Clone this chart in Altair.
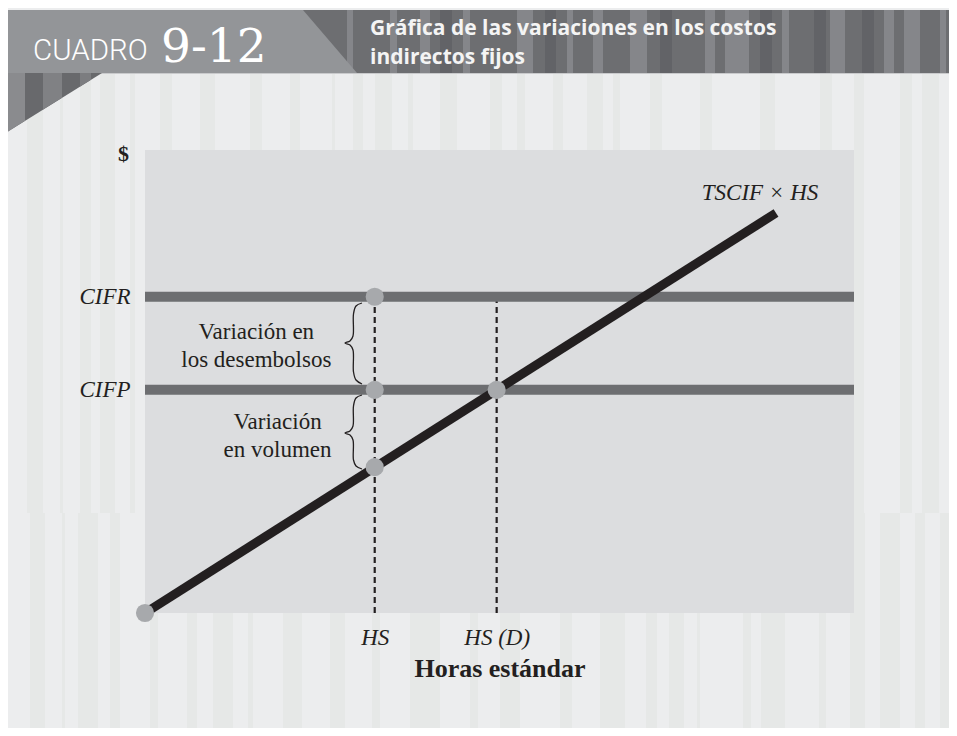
import altair as alt
import pandas as pd

# ---------------- chart values (data units, 0-100 on both axes) ----------------
x_label_names = ["HS", "HS (D)"]
x_label_values = [32.4, 49.6]
y_label_names = ["CIFR", "CIFP"]
y_label_values = [68.3, 48.2]

line_x = [0.0, 89.0]            # TSCIF x HS
line_y = [0.0, 86.4]

point_x = [0.0, 32.4, 32.4, 32.4, 49.6]
point_y = [0.0, 68.3, 48.2, 31.5, 48.2]

dash_x = [32.4, 49.6]
dash_top = [68.3, 68.3]

note_text = ["Variación en\nlos desembolsos", "Variación\nen volumen"]
note_x = [15.7, 18.7]
note_y = [57.7, 38.2]

line_label = "TSCIF ×  HS"
x_title = "Horas estándar"
y_title = "$"

title_lines = ["Gráfica de las variaciones en los costos", "indirectos fijos"]
title_baselines = [35, 64]

# ---------------- decorative page elements (page pixels) ----------------
upper_x0 = [27, 60, 80, 100, 130, 160, 200, 250, 290, 332, 353, 375, 408, 440, 490, 517, 553, 587, 613, 650, 700, 760, 820, 854, 900, 922]
upper_x1 = [43, 63, 91, 115, 135, 172, 215, 262, 300, 335, 363, 392, 413, 457, 502, 525, 563, 603, 620, 662, 712, 775, 832, 864, 912, 939]
lower_x0 = [30, 62, 78, 110, 150, 187, 213, 248, 283, 330, 372, 410, 470, 500, 560, 600, 646, 669, 697, 743, 761, 819, 850, 880, 915, 940]
lower_x1 = [45, 65, 98, 120, 158, 197, 233, 253, 302, 345, 380, 440, 478, 520, 572, 625, 657, 684, 700, 751, 785, 826, 865, 900, 925, 957]
banner_light_x0 = [347, 390, 420, 463, 517, 567, 593, 630, 705, 725, 782, 830, 884, 904, 940]
banner_light_x1 = [353, 397, 430, 470, 533, 573, 603, 647, 715, 749, 789, 845, 894, 920, 946]
banner_dark_x0 = [440, 545, 660, 760, 814, 862]
banner_dark_x1 = [452, 556, 672, 772, 826, 874]

box_x = [7, 303, 357]
box_top = [10, 10, 73]
box_bottom = [73, 73, 73]

fold_group = ["base", "base", "a", "a", "b", "b", "c", "c"]
fold_x = [7, 102, 7, 25, 43, 62, 80, 91]
fold_top = [73, 73, 73, 73, 73, 73, 73, 73]
fold_bottom = [132, 73, 132, 120.8, 109.6, 97.8, 86.5, 79.7]
fold_color = ["#68696c", "#68696c", "#8a8b8e", "#8a8b8e", "#808184", "#808184", "#7c7d80", "#7c7d80"]

brace_x = [362, 356, 353.5, 353, 350, 345, 350, 353, 353.5, 356, 362]
brace1_y = [303, 306, 314, 336, 341, 343, 345, 350, 372, 380, 384]
brace2_y = [395, 398, 406, 426, 431, 433, 435, 440, 460, 466, 469]

# ---------------- scales ----------------
DATA_X = alt.Scale(domain=[0, 100], nice=False, zero=False)
DATA_Y = alt.Scale(domain=[0, 100], nice=False, zero=False)
DECO_X = alt.Scale(domain=[8, 949], range=[-137, 804], nice=False, zero=False)
DECO_Y = alt.Scale(domain=[8, 728], range=[-142, 578], nice=False, zero=False)

SERIF = "Liberation Serif"
INK = "#231f20"
STRIPE = "#e6e8e7"


def dX(f):
    return alt.X(f, type="quantitative", scale=DECO_X, axis=None)


def dY(f):
    return alt.Y(f, type="quantitative", scale=DECO_Y, axis=None)


def pX(f):
    return alt.X(f, type="quantitative", scale=DATA_X, axis=None)


def pY(f):
    return alt.Y(f, type="quantitative", scale=DATA_Y, axis=None)


# background stripes
up_df = pd.DataFrame({"x0": upper_x0, "x1": upper_x1, "y0": 73, "y1": 513})
lo_df = pd.DataFrame({"x0": lower_x0, "x1": lower_x1, "y0": 513, "y1": 736})
bg_up = alt.Chart(up_df).mark_rect(color=STRIPE).encode(x=dX("x0"), x2="x1", y=dY("y0"), y2="y1")
bg_lo = alt.Chart(lo_df).mark_rect(color=STRIPE).encode(x=dX("x0"), x2="x1", y=dY("y0"), y2="y1")

# banner
banner = alt.Chart(pd.DataFrame({"x0": [7], "x1": [957], "y0": [10], "y1": [73]})).mark_rect(
    color="#6d6e71").encode(x=dX("x0"), x2="x1", y=dY("y0"), y2="y1")
bl_df = pd.DataFrame({"x0": banner_light_x0, "x1": banner_light_x1, "y0": 10, "y1": 73})
banner_light = alt.Chart(bl_df).mark_rect(color="#85868a").encode(x=dX("x0"), x2="x1", y=dY("y0"), y2="y1")
bd_df = pd.DataFrame({"x0": banner_dark_x0, "x1": banner_dark_x1, "y0": 10, "y1": 73})
banner_dark = alt.Chart(bd_df).mark_rect(color="#626367").encode(x=dX("x0"), x2="x1", y=dY("y0"), y2="y1")
banner_line = alt.Chart(pd.DataFrame({"x0": [7], "x1": [957], "y0": [73], "y1": [74]})).mark_rect(
    color="#c9cacc").encode(x=dX("x0"), x2="x1", y=dY("y0"), y2="y1")

box = alt.Chart(pd.DataFrame({"x": box_x, "y": box_top, "y2": box_bottom})).mark_area(
    color="#939598", opacity=1).encode(x=dX("x"), y=dY("y"), y2="y2")

fold = alt.Chart(pd.DataFrame({"g": fold_group, "x": fold_x, "y": fold_top, "y2": fold_bottom,
                               "c": fold_color})).mark_area(opacity=1).encode(
    x=dX("x"), y=dY("y"), y2="y2", detail="g:N",
    color=alt.Color("c:N", scale=None))

cuadro = alt.Chart(pd.DataFrame({"x": [33], "y": [60], "t": ["CUADRO"]})).mark_text(
    align="left", baseline="alphabetic", font="Roboto", fontWeight=300, fontSize=29.5, color="#ffffff"
).encode(x=dX("x"), y=dY("y"), text="t:N")
number = alt.Chart(pd.DataFrame({"x": [161], "y": [62], "t": ["9-12"]})).mark_text(
    align="left", baseline="alphabetic", font="DejaVu Serif", fontSize=47, color="#ffffff"
).encode(x=dX("x"), y=dY("y"), text="t:N")
title = alt.Chart(pd.DataFrame({"x": [370, 370], "y": title_baselines, "t": title_lines})).mark_text(
    align="left", baseline="alphabetic", font="Open Sans", fontWeight="bold", fontSize=21,
    color="#f4f4f4"
).encode(x=dX("x"), y=dY("y"), text="t:N")

# plot area
plot_bg = alt.Chart(pd.DataFrame({"x0": [0], "x1": [100], "y0": [0], "y1": [100]})).mark_rect(
    color="#dcdddf").encode(x=pX("x0"), x2="x1", y=pY("y0"), y2="y1")

dashes = alt.Chart(pd.DataFrame({"x": dash_x, "y0": [0, 0], "y1": dash_top})).mark_rule(
    color=INK, strokeWidth=2.2, strokeDash=[6, 4]).encode(x=pX("x"), y=pY("y0"), y2="y1")

hlines = alt.Chart(pd.DataFrame({"y": y_label_values, "x0": 0, "x1": 100})).mark_rule(
    color="#6d6e71", strokeWidth=10).encode(y=pY("y"), x=pX("x0"), x2="x1")

x_expr = " : ".join(f"datum.value == {v} ? '{n}'" for v, n in zip(x_label_values, x_label_names)) + " : ''"
y_expr = " : ".join(f"datum.value == {v} ? '{n}'" for v, n in zip(y_label_values, y_label_names)) + " : ''"

main_line = alt.Chart(pd.DataFrame({"x": line_x, "y": line_y})).mark_line(
    color=INK, strokeWidth=9, strokeCap="butt").encode(
    x=alt.X("x:Q", scale=DATA_X, axis=alt.Axis(
        values=x_label_values, labelExpr=x_expr, title=x_title, domain=False, ticks=False, grid=False,
        labelFont=SERIF, labelFontStyle="italic", labelFontSize=23, labelColor=INK, labelPadding=13,
        titleFont=SERIF, titleFontWeight="bold", titleFontSize=26, titleColor=INK, titlePadding=6,
        zindex=1)),
    y=alt.Y("y:Q", scale=DATA_Y, axis=alt.Axis(
        values=y_label_values, labelExpr=y_expr, title=y_title, domain=False, ticks=False, grid=False,
        labelFont=SERIF, labelFontStyle="italic", labelFontSize=23, labelColor=INK, labelPadding=15,
        titleFont=SERIF, titleFontWeight="bold", titleFontSize=22, titleColor=INK, titleAngle=0,
        titleAlign="center", titleBaseline="middle", titleX=-22, titleY=3, zindex=1)),
)

points = alt.Chart(pd.DataFrame({"x": point_x, "y": point_y})).mark_circle(
    color="#a7a9ac", opacity=1, size=330).encode(x=pX("x"), y=pY("y"))

notes = alt.Chart(pd.DataFrame({"x": note_x, "y": note_y, "t": note_text})).mark_text(
    align="center", baseline="middle", font=SERIF, fontSize=23, lineHeight=28, lineBreak="\n",
    dy=-14, color=INK).encode(x=pX("x"), y=pY("y"), text="t:N")

line_text = alt.Chart(pd.DataFrame({"x": [line_x[1]], "y": [line_y[1]], "t": [line_label]})).mark_text(
    align="center", baseline="middle", font=SERIF, fontStyle="italic", fontSize=23, dx=-16, dy=-20,
    color=INK).encode(x=pX("x"), y=pY("y"), text="t:N")

brace_df = pd.DataFrame({
    "g": ["a"] * len(brace_x) + ["b"] * len(brace_x),
    "i": list(range(len(brace_x))) * 2,
    "x": brace_x + brace_x,
    "y": brace1_y + brace2_y,
})
braces = alt.Chart(brace_df).mark_line(
    color=INK, strokeWidth=1.3, interpolate="catmull-rom").encode(
    x=dX("x"), y=dY("y"), order="i:Q", detail="g:N")

chart = alt.layer(
    bg_up, bg_lo, banner, banner_light, banner_dark, banner_line, box, fold,
    cuadro, number, title,
    plot_bg, dashes, hlines, main_line, points, notes, line_text, braces,
).resolve_scale(x="independent", y="independent").properties(
    width=709, height=463,
    padding={"left": 137, "top": 142, "right": 95, "bottom": 115},
    autosize=alt.AutoSizeParams(type="none"),
    background="#ecedee",
).configure_view(stroke=None, fill=None)

chart.save("out.html", embed_options={"renderer": "svg", "actions": False})
